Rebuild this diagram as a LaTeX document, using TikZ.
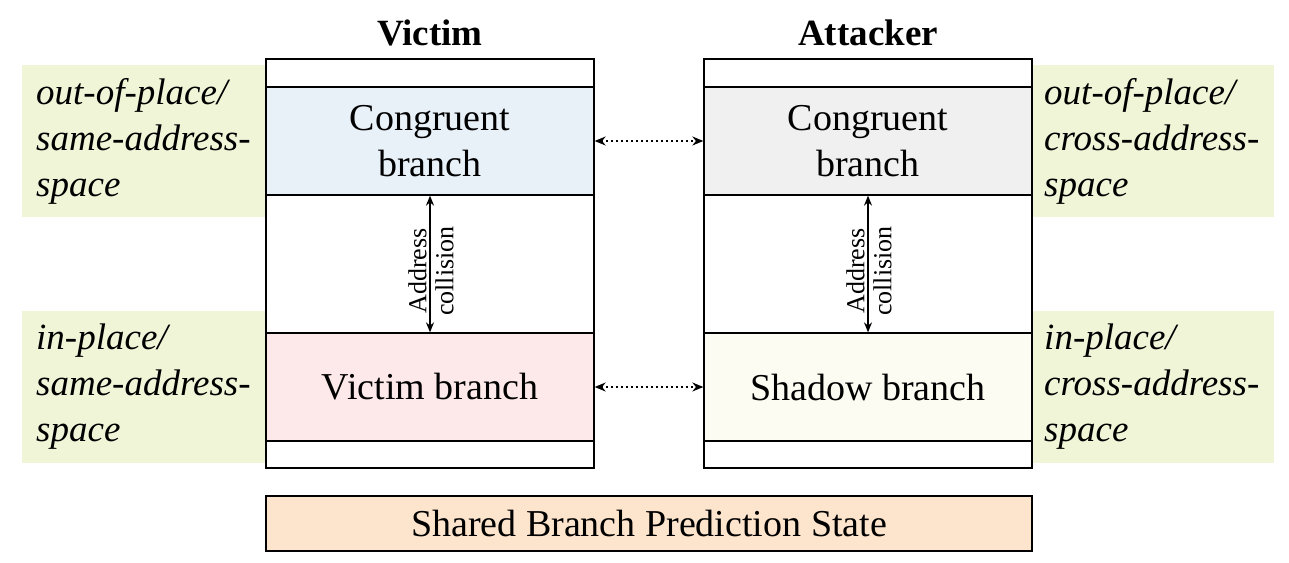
\documentclass[tikz,border=0pt]{standalone}
\usepackage{fontspec}
\setmainfont{Liberation Serif}
\usetikzlibrary{arrows.meta}
\definecolor{cblue}{RGB}{232,240,248}
\definecolor{cgray}{RGB}{240,240,240}
\definecolor{cpink}{RGB}{253,233,233}
\definecolor{ccream}{RGB}{252,252,242}
\definecolor{cgreen}{RGB}{240,245,216}
\definecolor{corange}{RGB}{253,228,204}
\tikzset{
  cell/.style={draw=black, line width=1.3pt, minimum width=328pt, inner sep=0pt, align=center, font=\fontsize{38}{46}\selectfont},
  greenbox/.style={fill=cgreen, draw=none, minimum height=152pt, inner sep=0pt},
  sidetext/.style={anchor=west, align=left, inner sep=0pt, font=\fontsize{37}{46}\selectfont\itshape},
  dotarrow/.style={line width=1.6pt, dash pattern=on 1.6pt off 3.4pt, {Stealth[length=11pt,width=9pt,line cap=butt]}-{Stealth[length=11pt,width=9pt]}},
  colarrow/.style={line width=1.3pt, {Stealth[length=10pt,width=8pt]}-{Stealth[length=10pt,width=8pt]}},
  title/.style={font=\fontsize{37}{40}\selectfont\bfseries, inner sep=0pt}
}
\begin{document}
\begin{tikzpicture}[x=1pt,y=-1pt]
\useasboundingbox (0,0) rectangle (1289,562);
% green background boxes
\node[greenbox, minimum width=244pt] (g1) at (144,141) {};
\node[greenbox, minimum width=244pt] (g2) at (144,387) {};
\node[greenbox, minimum width=242pt] (g3) at (1153,141) {};
\node[greenbox, minimum width=242pt] (g4) at (1153,387) {};
\node[sidetext] (t1) at (36,141) {out-of-place/\\same-address-\\space};
\node[sidetext] (t2) at (36,387) {in-place/\\same-address-\\space};
\node[sidetext] (t3) at (1044,141) {out-of-place/\\cross-address-\\space};
\node[sidetext] (t4) at (1044,387) {in-place/\\cross-address-\\space};
% titles
\node[title] (vt) at (430,33) {Victim};
\node[title] (at) at (868,33) {Attacker};
% victim column
\node[cell, minimum height=28pt] (v1) at (430,73) {};
\node[cell, minimum height=108pt, fill=cblue] (v2) at (430,141) {Congruent\\branch};
\node[cell, minimum height=138pt] (v3) at (430,264) {};
\node[cell, minimum height=108pt, fill=cpink] (v4) at (430,387) {Victim branch};
\node[cell, minimum height=27pt] (v5) at (430,454.5) {};
% attacker column
\node[cell, minimum height=28pt] (a1) at (868,73) {};
\node[cell, minimum height=108pt, fill=cgray] (a2) at (868,141) {Congruent\\branch};
\node[cell, minimum height=138pt] (a3) at (868,264) {};
\node[cell, minimum height=108pt, fill=ccream] (a4) at (868,387) {Shadow branch};
\node[cell, minimum height=27pt] (a5) at (868,454.5) {};
% shared
\node[cell, minimum width=766pt, minimum height=55pt, fill=corange] (s) at (649,523.5) {Shared Branch Prediction State};
% arrows
\draw[dotarrow] (v2.east) -- (a2.west);
\draw[dotarrow] (v4.east) -- (a4.west);
\draw[colarrow] (v2.south) -- (v4.north);
\draw[colarrow] (a2.south) -- (a4.north);
\node[rotate=90, align=center, inner sep=0pt, font=\fontsize{26}{27}\selectfont] (l1) at (431,271) {Address\\collision};
\node[rotate=90, align=center, inner sep=0pt, font=\fontsize{26}{27}\selectfont] (l2) at (869,271) {Address\\collision};
\end{tikzpicture}
\end{document}
